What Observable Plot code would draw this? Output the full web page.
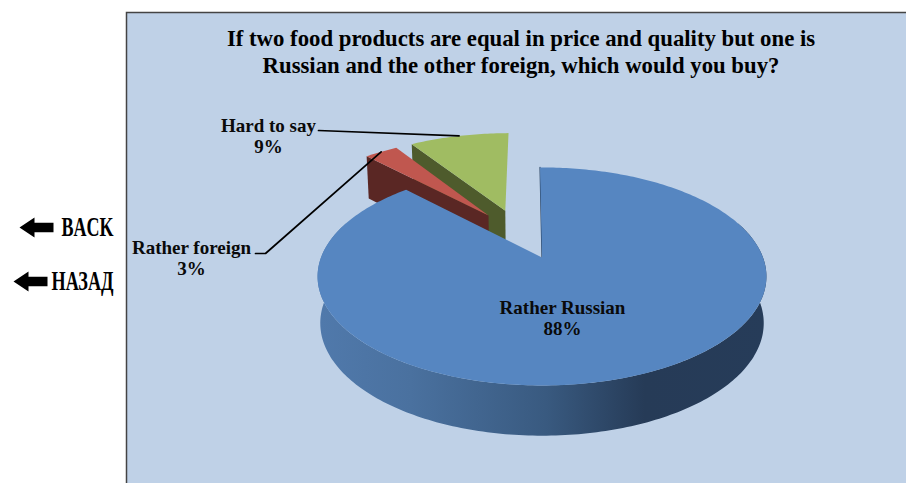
<!DOCTYPE html>
<html><head><meta charset="utf-8">
<script src="https://cdn.jsdelivr.net/npm/d3@7"></script>
<script src="https://cdn.jsdelivr.net/npm/@observablehq/plot@0.6"></script>
<style>html,body{margin:0;padding:0;background:#fff;overflow:hidden}svg{display:block}</style>
</head><body><div id="chart"></div>
<script>
// ---- values ----
const titleLines = ["If two food products are equal in price and quality but one is",
                    "Russian and the other foreign, which would you buy?"];
const categories = ["Rather Russian", "Rather foreign", "Hard to say"];
const shares = [88, 3, 9];
const topColors = ["#5686c1", "#c0574f", "#a0bc62"];
const wallColors = ["#2b4564", "#5a2724", "#4e5b2c"];
// explosion of each slice in pie units (sideways, backwards)
const explodeX = [0, -0.26, -0.18];
const explodeY = [0, 0.427, 0.48];
// annotation anchors in page pixels
const labelX = [562, 191, 268];
const labelY = [317, 257, 135];
const leaderStarts = [null, [[255, 253], [265, 253]], [[318, 130]]];
const navLabels = ["BACK", "НАЗАД"];
const navTextEnd = 113;
const navY = [227, 281];
const navTipX = [19, 13];

// ---- perspective pie geometry ----
const cx = 541.5, vy = 257, R = 221, B = 105.7, P = 0.174, H = 46;
const project = (X, Y, drop = 0) => {
  const s = 1 / (1 + P * Y);
  const k = drop ? 0.988 : 1;
  return {x: cx + R * X * s * k, y: vy - B * Y * s + drop * H * Math.pow(s, 0.46)};
};
const rad = d => d * Math.PI / 180;
const start = -0.6;
let acc = start;
const slices = categories.map((name, i) => {
  const a0 = acc, a1 = acc + shares[i] * 3.6;
  acc = a1;
  return {name, i, a0, a1, mid: (a0 + a1) / 2};
});
const pt = (s, a, r = 1, drop = 0) =>
  project(explodeX[s.i] + r * Math.sin(rad(a)), explodeY[s.i] + r * Math.cos(rad(a)), drop);
const arc = (s, a0, a1, drop = 0) => {
  const n = Math.max(2, Math.ceil(Math.abs(a1 - a0)));
  return d3.range(n + 1).map(j => pt(s, a0 + (a1 - a0) * j / n, 1, drop));
};
const topFace = s => [pt(s, s.a0, 0), ...arc(s, s.a0, s.a1)];
const radialWall = (s, a) => [pt(s, a), pt(s, a, 0), pt(s, a, 0, 1), pt(s, a, 1, 1)];
const [russian, foreign, hard] = slices;
const rimTop = arc(russian, 70, 290);
const rimBottom = arc(russian, 290, 70, 1);

const shape = (pts, fill, extra = {}) =>
  Plot.line(pts, {x: "x", y: "y", fill, stroke: "none", ...extra});

const labelRows = slices.map(s => ({
  x: labelX[s.i], y: labelY[s.i], text: `${s.name}\n${shares[s.i]}%`
}));
const leaders = slices.filter(s => leaderStarts[s.i]).map(s => {
  const starts = leaderStarts[s.i].map(([x, y]) => ({x, y}));
  return [...starts, pt(s, s.mid)];
});
const arrowShape = (tip, y) => [[0,0],[15,-10],[15,-4.7],[34,-4.7],[34,4.7],[15,4.7],[15,10]]
  .map(([dx, dy]) => ({x: tip + dx, y: y + dy}));

const gradient = () => {
  const svg = d3.create("svg:g");
  const g = svg.append("defs").append("linearGradient").attr("id", "rim");
  g.attr("gradientUnits", "userSpaceOnUse").attr("x1", 320).attr("x2", 770).attr("y1", 0).attr("y2", 0);
  [[0, "#5079ab"], [0.2, "#4a719f"], [0.5, "#395a80"], [0.72, "#263b57"], [1, "#263c59"]]
    .forEach(([o, c]) => g.append("stop").attr("offset", o).attr("stop-color", c));
  return svg.node();
};

const chart = Plot.plot({
  width: 906, height: 483, margin: 0,
  x: {domain: [0, 906], range: [0, 906], axis: null},
  y: {domain: [0, 483], range: [0, 483], axis: null},
  style: {background: "transparent"},
  marks: [
    gradient,
    Plot.rect([{x1: 126.5, x2: 910, y1: 12.5, y2: 490}], {
      x1: "x1", x2: "x2", y1: "y1", y2: "y2", fill: "#bfd1e7", stroke: "#444", strokeWidth: 1.5
    }),
    // green slice
    shape(radialWall(hard, hard.a0), wallColors[2]),
    shape(topFace(hard), topColors[2]),
    // red slice
    shape(radialWall(foreign, foreign.a0), wallColors[1]),
    shape(topFace(foreign), topColors[1]),
    // blue slice
    shape([...rimTop, ...rimBottom], "url(#rim)"),
    Plot.line([pt(russian, russian.a0), pt(russian, russian.a0, 0)], {x: "x", y: "y", stroke: "#2b4564", strokeWidth: 1.2}),
    shape(topFace(russian), topColors[0]),
    // leaders
    ...leaders.map(l => Plot.line(l, {x: "x", y: "y", stroke: "#000", strokeWidth: 1.7})),
    // labels
    Plot.text(labelRows, {
      x: "x", y: "y", text: "text", fontSize: 19, fontWeight: "bold",
      fontFamily: "Liberation Serif", fill: "#0a0a0a", lineHeight: 1.13
    }),
    Plot.text(titleLines, {
      x: () => 520.5, y: (d, i) => 38 + i * 27.5, text: d => d, fontSize: 22.75, fontWeight: "bold",
      fontFamily: "Liberation Serif", fill: "#000"
    }),
    // navigation
    ...navLabels.map((_, i) => shape(arrowShape(navTipX[i], navY[i]), "#000")),
    Plot.text(navLabels, {
      x: () => navTextEnd, y: (d, i) => navY[i], text: d => d, textAnchor: "end",
      fontSize: 27, fontWeight: "bold", fontFamily: "Liberation Serif", fill: "#000",
      className: "nav"
    })
  ]
});
document.getElementById("chart").append(chart);
d3.select(chart).selectAll(".nav text")
  .attr("lengthAdjust", "spacingAndGlyphs")
  .attr("textLength", (d, i) => [52, 62][i]);
</script></body></html>
